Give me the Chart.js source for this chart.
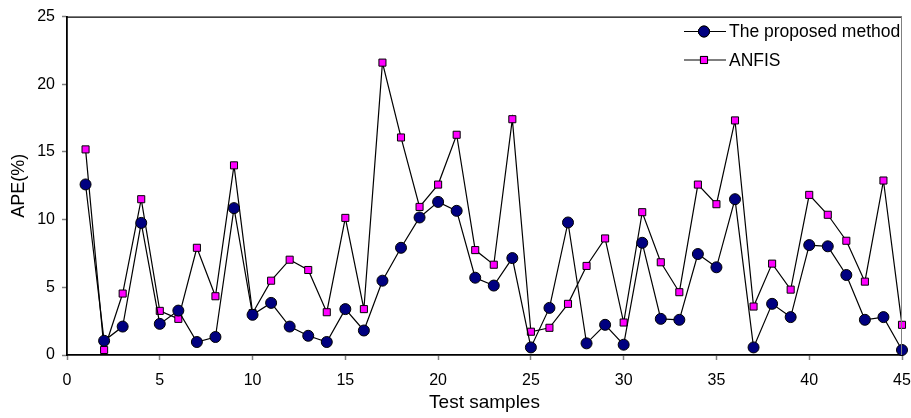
<!DOCTYPE html>
<html>
<head>
<meta charset="utf-8">
<script src="https://cdn.jsdelivr.net/npm/chart.js@4/dist/chart.umd.min.js"></script>
<style>
html,body{margin:0;padding:0;background:#fff;}
#wrap{width:911px;height:418px;position:relative;}
</style>
</head>
<body>
<div id="wrap"><canvas id="c" width="911" height="418"></canvas></div>
<script>
const samples = Array.from({length:45},(_,i)=>i+1);
const proposed = [12.6,1.05,2.1,9.76,2.3,3.28,0.96,1.33,10.85,2.97,3.85,2.1,1.42,0.96,3.39,1.81,5.49,7.92,10.16,11.31,10.65,5.71,5.13,7.16,0.56,3.48,9.79,0.86,2.23,0.76,8.29,2.67,2.6,7.46,6.48,11.51,0.56,3.78,2.8,8.12,8.03,5.91,2.6,2.8,0.37];
const anfis = [15.19,0.37,4.54,11.51,3.26,2.67,7.92,4.34,14.01,3.09,5.49,7.04,6.28,3.16,10.13,3.39,21.6,16.07,10.94,12.59,16.27,7.75,6.67,17.42,1.72,2.01,3.78,6.58,8.61,2.4,10.55,6.85,4.64,12.59,11.14,17.33,3.58,6.75,4.83,11.83,10.36,8.44,5.42,12.89,2.23];
const seriesNames = ['The proposed method','ANFIS'];
const FONT = "'Liberation Sans',Arial,sans-serif";

const frameLegend = {
  id:'frameLegend',
  afterDraw(chart){
    const ctx = chart.ctx, a = chart.chartArea;
    ctx.save();
    ctx.strokeStyle='#000'; ctx.lineWidth=1.2;
    ctx.beginPath(); ctx.moveTo(a.left, a.top+0.5); ctx.lineTo(a.right, a.top+0.5); ctx.stroke();
    ctx.strokeStyle='#808080'; ctx.lineWidth=1;
    ctx.beginPath(); ctx.moveTo(a.right-0.5, a.top); ctx.lineTo(a.right-0.5, a.bottom); ctx.stroke();
    const items = [
      {y:31.5, style:'circle', fill:'#000080', r:5.5},
      {y:60, style:'rect', fill:'#FF00FF', r:5}
    ];
    ctx.font = "17.5px "+FONT;
    ctx.textBaseline='middle';
    items.forEach((it,i)=>{
      ctx.strokeStyle='#000'; ctx.lineWidth=1.2;
      ctx.beginPath(); ctx.moveTo(684,it.y); ctx.lineTo(726,it.y); ctx.stroke();
      ctx.fillStyle=it.fill; ctx.lineWidth=1;
      Chart.helpers.drawPoint(ctx,{pointStyle:it.style,radius:it.r,borderWidth:1},704,it.y);
      ctx.fill(); ctx.stroke();
      ctx.fillStyle='#000';
      ctx.fillText(seriesNames[i],729,it.y+1);
    });
    ctx.restore();
  }
};

new Chart(document.getElementById('c'),{
  type:'line',
  data:{
    datasets:[
      {label:seriesNames[0], data:samples.map((x,i)=>({x, y:proposed[i]})), clip:false,
       borderColor:'#000', borderWidth:1.2, pointStyle:'circle', pointRadius:5.5,
       pointBackgroundColor:'#000080', pointBorderColor:'#000', pointBorderWidth:1, tension:0},
      {label:seriesNames[1], data:samples.map((x,i)=>({x, y:anfis[i]})), clip:false,
       borderColor:'#000', borderWidth:1.2, pointStyle:'rect', pointRadius:5,
       pointBackgroundColor:'#FF00FF', pointBorderColor:'#000', pointBorderWidth:1, tension:0}
    ]
  },
  options:{
    responsive:false, animation:false,
    layout:{padding:{top:15,right:9,left:0,bottom:0}},
    plugins:{legend:{display:false}, tooltip:{enabled:false}},
    scales:{
      x:{type:'linear', min:0, max:45,
         ticks:{stepSize:5, color:'#000', font:{family:FONT,size:16}, padding:11, maxRotation:0},
         grid:{drawOnChartArea:false, drawTicks:true, tickLength:5, tickColor:'#808080', tickWidth:1.5},
         border:{display:true,color:'#000',width:1.8},
         title:{display:true,text:'Test samples',color:'#000',font:{family:FONT,size:19},padding:{top:0,bottom:4}},
         afterFit(s){ s.height = 63; s.paddingRight = 0; s.paddingLeft = 0; }
      },
      y:{type:'linear', min:0, max:25,
         ticks:{stepSize:5, color:'#000', font:{family:FONT,size:16}, padding:7},
         grid:{drawOnChartArea:false, drawTicks:true, tickLength:5, tickColor:'#808080', tickWidth:1.5},
         border:{display:true,color:'#000',width:1.8},
         title:{display:true,text:'APE(%)',color:'#000',font:{family:FONT,size:18},padding:{top:8,bottom:0}},
         afterFit(s){ s.width = 67; }
      }
    }
  },
  plugins:[frameLegend]
});
</script>
</body>
</html>
